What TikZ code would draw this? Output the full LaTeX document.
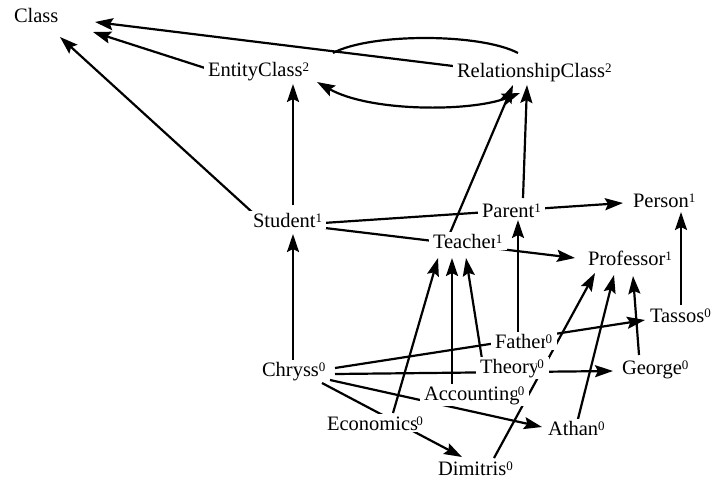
\documentclass[tikz,border=0pt]{standalone}
\usepackage{fontspec}
\setmainfont{Liberation Serif}
\usetikzlibrary{arrows.meta}
\pgfdeclarelayer{bg}
\pgfsetlayers{bg,main}
\newcommand{\supn}[1]{\raisebox{5pt}{\fontsize{13}{13}\selectfont #1}}
\newcommand{\supo}[1]{\kern-2.5pt\raisebox{5pt}{\setlength{\fboxsep}{0.7pt}\colorbox{white}{\fontsize{13}{13}\selectfont #1}}}
\begin{document}
\begin{tikzpicture}[x=1pt,y=-1pt,
  lbl/.style={anchor=text, fill=white, inner xsep=4pt, inner ysep=2pt, font=\fontsize{20.5}{24}\selectfont},
  tip/.style={},
  edge/.style={line width=2.2pt, -{Stealth[length=18pt,width=12pt,inset=3pt]}},
  biedge/.style={line width=2.2pt, {Stealth[length=18pt,width=12pt,inset=3pt]}-{Stealth[length=18pt,width=12pt,inset=3pt]}},
  plain/.style={line width=2.2pt}]
\useasboundingbox (0,0) rectangle (712,479);
% nodes
\node[lbl] (cls) at (14,22) {Class};
\node[lbl] (ent) at (208,76) {EntityClass\supn{2}};
\node[lbl] (rel) at (457,77) {RelationshipClass\supn{2}};
\node[lbl] (stu) at (253,227) {Student\supn{1}};
\node[lbl] (par) at (482,217) {Parent\supn{1}};
\node[lbl] (per) at (633,207) {Person\supn{1}};
\node[lbl] (tea) at (433,248) {Teacher\supo{1}};
\node[lbl] (pro) at (588,265) {Professor\supn{1}};
\node[lbl] (tas) at (650,322) {Tassos\supn{0}};
\node[lbl] (fat) at (495,348) {Father\supo{0}};
\node[lbl] (the) at (480,373) {Theory\supo{0}};
\node[lbl] (chr) at (262,376) {Chryss\supn{0}};
\node[lbl] (geo) at (622,374) {George\supn{0}};
\node[lbl] (acc) at (424,400) {Accounting\supo{0}};
\node[lbl] (eco) at (327,430) {Economics\supo{0}};
\node[lbl] (ath) at (548,435) {Athan\supn{0}};
\node[lbl] (dim) at (438,475) {Dimitris\supn{0}};
\begin{pgfonlayer}{bg}
\fill[white] (0,0) rectangle (712,479);
% edges
\draw[edge] ([shift={(-4,-11)}]rel.text) -- ([shift={(81,0)}]cls.text);
\draw[edge] ([shift={(-3,-8)}]ent.text) -- ([shift={(79,10)}]cls.text);
\draw[edge] ([shift={(-1,-15)}]stu.text) -- ([shift={(46,15)}]cls.text);
\draw[edge] ([shift={(40,-22)}]stu.text) -- ([shift={(85,8)}]ent.text);
\draw[plain] ([shift={(125,-23)}]ent.text) .. controls ([shift={(162,-43)}]ent.text) and ([shift={(23,-44)}]rel.text) .. ([shift={(61,-24)}]rel.text);
\draw[biedge] ([shift={(63,16)}]rel.text) .. controls ([shift={(13,35)}]rel.text) and ([shift={(162,36)}]ent.text) .. ([shift={(109,6)}]ent.text);
\draw[edge] ([shift={(17,-15)}]tea.text) -- ([shift={(56,8)}]rel.text);
\draw[edge] ([shift={(41,-19)}]par.text) -- ([shift={(70,8)}]rel.text);
\draw[edge] ([shift={(70,-4)}]stu.text) -- ([shift={(-10,-4)}]per.text);
\draw[edge] ([shift={(72,1)}]stu.text) -- ([shift={(-13,-7)}]pro.text);
\draw[edge] ([shift={(31,-17)}]tas.text) -- ([shift={(48,5)}]per.text);
\draw[edge] ([shift={(23,-15)}]fat.text) -- ([shift={(36,3)}]par.text);
\draw[edge] ([shift={(73,-8)}]chr.text) -- ([shift={(-5,-2)}]tas.text);
\draw[edge] ([shift={(73,-2)}]chr.text) -- ([shift={(-9,-3)}]geo.text);
\draw[edge] ([shift={(68,4)}]chr.text) -- ([shift={(-6,-8)}]ath.text);
\draw[edge] ([shift={(60,7)}]chr.text) -- ([shift={(24,-18)}]dim.text);
\draw[edge] ([shift={(31,-16)}]chr.text) -- ([shift={(40,7)}]stu.text);
\draw[edge] ([shift={(66,-17)}]eco.text) -- ([shift={(5,10)}]tea.text);
\draw[edge] ([shift={(28,-14)}]acc.text) -- ([shift={(19,10)}]tea.text);
\draw[edge] ([shift={(2,-14)}]the.text) -- ([shift={(33,10)}]tea.text);
\draw[edge] ([shift={(56,-17)}]dim.text) -- ([shift={(7,8)}]pro.text);
\draw[edge] ([shift={(30,-16)}]ath.text) -- ([shift={(26,10)}]pro.text);
\draw[edge] ([shift={(17,-19)}]geo.text) -- ([shift={(45,11)}]pro.text);
\end{pgfonlayer}
\end{tikzpicture}
\end{document}
